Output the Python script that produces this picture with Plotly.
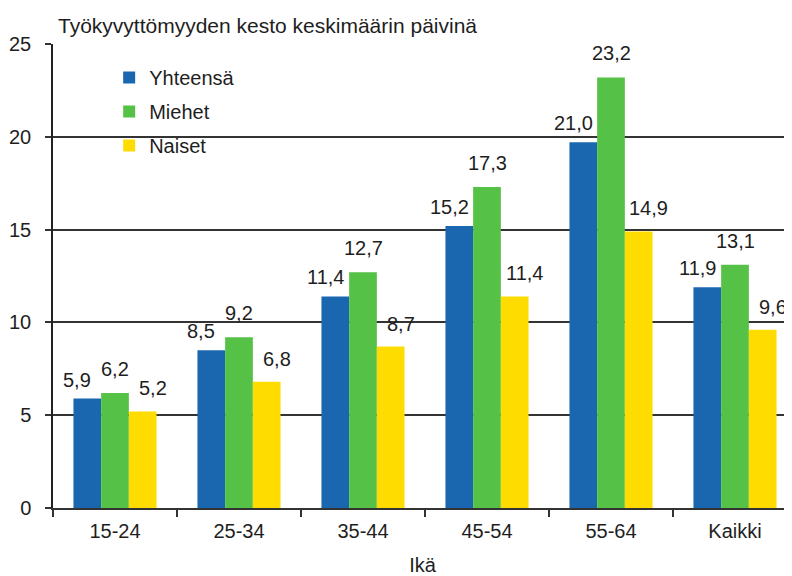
import plotly.graph_objects as go

categories = ["15-24", "25-34", "35-44", "45-54", "55-64", "Kaikki"]
yhteensa = [5.9, 8.5, 11.4, 15.2, 19.7, 11.9]   # bar heights as drawn
miehet = [6.2, 9.2, 12.7, 17.3, 23.2, 13.1]
naiset = [5.2, 6.8, 8.7, 11.4, 14.9, 9.6]
yhteensa_labels = ["5,9", "8,5", "11,4", "15,2", "21,0", "11,9"]
miehet_labels = ["6,2", "9,2", "12,7", "17,3", "23,2", "13,1"]
naiset_labels = ["5,2", "6,8", "8,7", "11,4", "14,9", "9,6"]
y_ticks = [0, 5, 10, 15, 20, 25]

FONT = "Liberation Sans, Arial, sans-serif"
TXT = "#1e1e1e"
series = [
    ("Yhteensä", yhteensa, yhteensa_labels, "#1a67b0", 6),
    ("Miehet", miehet, miehet_labels, "#55c146", 11),
    ("Naiset", naiset, naiset_labels, "#ffdc00", 10),
]

# page has an 8px body margin, so the figure is sized to fit the window
OFF = 8
W, H = 792 - OFF, 576 - OFF
ML, MR, MT, MB = 53 - OFF, 0, 44 - OFF, 68
plot_w = W - ML - MR
cat_px = 124.0
x_range = [-0.5, -0.5 + plot_w / cat_px]
bargap = 0.33
bar_px = cat_px * (1 - bargap) / 3

fig = go.Figure()
annotations = []
for i, (name, vals, labels, color, lift) in enumerate(series):
    fig.add_trace(go.Bar(
        x=categories, y=vals, name=name, marker_color=color,
        marker_line_width=0, legendgroup=name,
    ))
    shift = (i - 1) * (bar_px + 10)
    for c, v, lab in zip(categories, vals, labels):
        annotations.append(dict(
            x=c, y=v, xref="x", yref="y", text=lab, showarrow=False,
            xanchor="center", yanchor="bottom", xshift=shift, yshift=lift,
            font=dict(family=FONT, size=20, color=TXT),
        ))

# white backdrop behind the legend, interrupting the gridline
legend_bg = dict(type="rect", xref="paper", yref="paper",
                 x0=(95 - 53) / plot_w, x1=(273 - 53) / plot_w,
                 y0=0.70, y1=0.96, fillcolor="white", line_width=0,
                 layer="between")

fig.update_layout(
    width=W, height=H,
    margin=dict(l=ML, r=MR, t=MT, b=MB, autoexpand=False),
    paper_bgcolor="white", plot_bgcolor="white",
    barmode="group", bargap=bargap, bargroupgap=0,
    font=dict(family=FONT, size=20, color=TXT),
    title=dict(text="Työkyvyttömyyden kesto keskimäärin päivinä",
               x=(58 - 53) / plot_w, xref="paper", xanchor="left",
               y=1 - 18 / H, yref="container", yanchor="middle",
               font=dict(family=FONT, size=21, color=TXT)),
    legend=dict(x=0.076, y=0.97, xanchor="left", yanchor="top",
                bgcolor="rgba(0,0,0,0)", borderwidth=0, traceorder="grouped",
                tracegroupgap=5, font=dict(family=FONT, size=20, color=TXT)),
    annotations=annotations,
    shapes=[legend_bg],
    showlegend=True,
)
fig.update_xaxes(
    range=x_range, showline=True, linecolor="#333", linewidth=1.5,
    ticks="outside", ticklen=7, tickcolor="#333", tickwidth=1.5,
    tickson="boundaries", showgrid=False, automargin=False,
    ticklabelstandoff=4,
    title=dict(text="Ikä", standoff=22, font=dict(family=FONT, size=20, color=TXT)),
)
fig.update_yaxes(
    range=[0, 25], tickvals=y_ticks, showline=True, linecolor="#222", linewidth=1.5,
    ticks="outside", ticklen=6, tickcolor="#333", tickwidth=1.5,
    showgrid=True, gridcolor="#333", gridwidth=1.5, zeroline=False,
    ticklabelstandoff=10, automargin=False,
)

fig.write_html("out.html")
